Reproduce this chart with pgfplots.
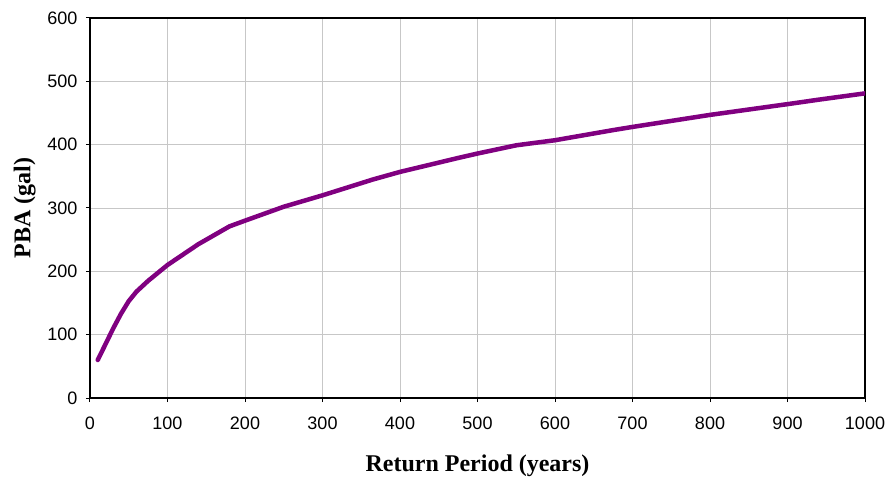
\documentclass[border=0pt]{standalone}
\usepackage{fontspec}
\setmainfont{Liberation Serif}
\newfontfamily\arial{Liberation Sans}
\usepackage{pgfplots}
\usetikzlibrary{calc}
\pgfplotsset{compat=1.18}
\begin{document}
\begin{tikzpicture}
\begin{axis}[
  name=ax,
  scale only axis,
  width=775pt, height=380pt,
  xmin=0, xmax=1000, ymin=0, ymax=600,
  xtick={0,100,...,1000}, ytick={0,100,...,600},
  grid=major,
  major grid style={color=black!22, line width=0.9pt},
  axis line style={black, line width=1.3pt},
  tick align=outside, tick pos=lower,
  major tick length=4pt,
  tick style={black, line width=1pt},
  /pgf/number format/assume math mode=true,
  /pgf/number format/1000 sep={},
  ticklabel style={font=\arial\fontsize{18}{21}\selectfont},
  xticklabel style={yshift=-11pt},
  yticklabel style={xshift=-5pt},
  xlabel={\bfseries Return Period (years)},
  ylabel={\bfseries PBA (gal)},
  label style={font=\fontsize{24}{28}\selectfont},
  xlabel style={yshift=-19pt},
  ylabel style={yshift=5pt},
]
\addplot[color={rgb,255:red,128;green,0;blue,128}, line width=4.5pt, line join=round, line cap=round] coordinates {
(10,60) (20,85) (30,110) (40,133) (50,153) (60,168) (75,185) (100,210)
(140,243) (180,271) (200,280) (250,302) (300,320) (365,345) (400,357)
(475,379) (500,386) (550,399) (600,407) (675,423) (700,428) (800,447)
(900,464) (940,471) (1000,481)
};
\end{axis}
\pgfresetboundingbox
\path ($(ax.south west)+(-90pt,-81pt)$) rectangle ($(ax.north east)+(20pt,18pt)$);
\end{tikzpicture}
\end{document}
